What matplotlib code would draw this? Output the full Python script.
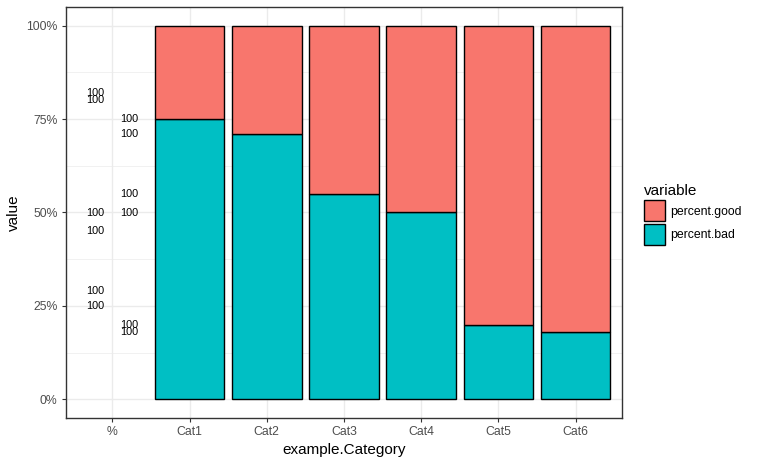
import matplotlib.pyplot as plt
from matplotlib.patches import Patch
from matplotlib.ticker import FixedLocator
import numpy as np

plt.rcParams['font.family'] = ['Liberation Sans', 'DejaVu Sans']

categories = ['%', 'Cat1', 'Cat2', 'Cat3', 'Cat4', 'Cat5', 'Cat6']
percent_bad = [75, 71, 55, 50, 20, 18]
percent_good = [25, 29, 45, 50, 80, 82]
label_text = '100'

good_col = '#F8766D'
bad_col = '#00BFC4'

fig = plt.figure(figsize=(7.58, 4.65), dpi=100)
ax = fig.add_axes([66 / 758, 1 - 418 / 465, 556 / 758, 411 / 465])

x = np.arange(1, len(categories))
bad = np.array(percent_bad) / 100
good = np.array(percent_good) / 100

ax.bar(x, bad, width=0.9, color=bad_col, edgecolor='black', linewidth=1, zorder=3)
ax.bar(x, good, width=0.9, bottom=bad, color=good_col, edgecolor='black', linewidth=1, zorder=3)

# labels stuck in the "%" column (dodged good / bad)
for v in good:
    ax.text(-0.225, v, label_text, ha='center', va='center', fontsize=7.8, color='black', zorder=4)
for v in bad:
    ax.text(0.225, v, label_text, ha='center', va='center', fontsize=7.8, color='black', zorder=4)

ax.set_xlim(-0.6, 6.6)
ax.set_ylim(-0.05, 1.05)
ax.set_xticks(np.arange(len(categories)))
ax.set_xticklabels(categories)
ax.set_yticks([0, 0.25, 0.5, 0.75, 1.0])
ax.set_yticklabels(['0%', '25%', '50%', '75%', '100%'])
ax.yaxis.set_minor_locator(FixedLocator([0.125, 0.375, 0.625, 0.875]))

ax.grid(True, which='major', color='#EBEBEB', linewidth=1.0, zorder=0)
ax.grid(True, which='minor', axis='y', color='#EBEBEB', linewidth=0.5, zorder=0)
ax.set_axisbelow(True)
ax.tick_params(which='minor', length=0)
ax.tick_params(which='major', length=3, width=0.8, color='#333333', labelsize=8.8,
               labelcolor='#4D4D4D', pad=3)
for s in ax.spines.values():
    s.set_color('#333333')
    s.set_linewidth(1.0)

ax.set_xlabel('example.Category', fontsize=11, labelpad=3)
ax.set_ylabel('value', fontsize=11, labelpad=4)

handles = [Patch(facecolor=good_col, edgecolor='black', linewidth=1),
           Patch(facecolor=bad_col, edgecolor='black', linewidth=1)]
leg = fig.legend(handles, ['percent.good', 'percent.bad'], title='variable',
                 loc='upper left', bbox_to_anchor=(639 / 758, 1 - 179 / 465),
                 frameon=False, fontsize=8.8, title_fontsize=11,
                 handlelength=1.75, handleheight=2.26, handletextpad=0.4,
                 labelspacing=0.2, borderaxespad=0)
leg._legend_box.align = 'left'

fig.savefig('out.png', dpi=100)
